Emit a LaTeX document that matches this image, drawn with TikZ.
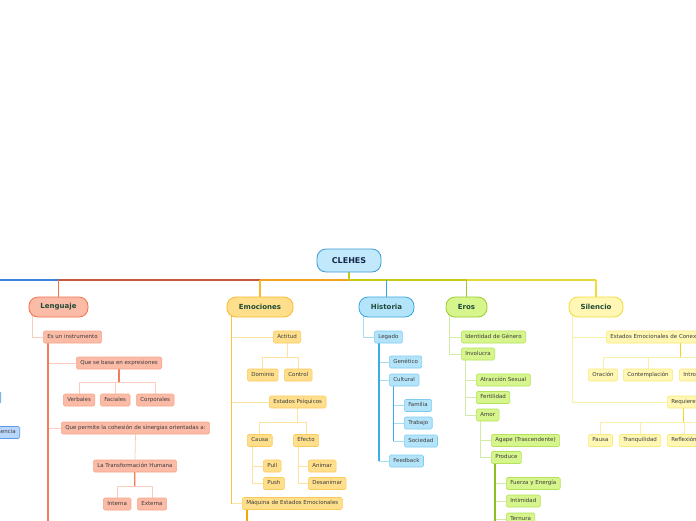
\documentclass[tikz,border=0pt]{standalone}
\usepackage{fontspec}
\setmainfont{DejaVu Sans}
\usepackage{tikz}
\usetikzlibrary{backgrounds}

\definecolor{chlabel}{HTML}{1F4A3A}
\definecolor{chnavy}{HTML}{14284A}
\definecolor{chleaftext}{HTML}{3C3C3C}
% root and main line
\definecolor{chroot}{HTML}{C2E8FC}
\definecolor{chrootline}{HTML}{3D9BD3}
\definecolor{chmblue}{HTML}{3A82DA}
\definecolor{chmred}{HTML}{C4553F}
\definecolor{chmorange}{HTML}{F0A41E}
\definecolor{chmolive}{HTML}{C6CA12}
\definecolor{chmyellow}{HTML}{E6D636}
% Lenguaje
\definecolor{chlfill}{HTML}{FBBBA6}
\definecolor{chlborder}{HTML}{F8A68A}
\definecolor{chlmain}{HTML}{F2724E}
\definecolor{chltwig}{HTML}{FCCDBD}
\definecolor{chltrunk}{HTML}{F47B58}
% Emociones
\definecolor{chefill}{HTML}{FFDF8C}
\definecolor{cheborder}{HTML}{FACB5A}
\definecolor{chemain}{HTML}{F8BA2A}
\definecolor{chetwig}{HTML}{FDE2A0}
\definecolor{chetrunk}{HTML}{F9C33E}
\definecolor{chedark}{HTML}{F5A800}
% Historia
\definecolor{chhfill}{HTML}{B4E4FA}
\definecolor{chhborder}{HTML}{7DCDF2}
\definecolor{chhmain}{HTML}{35A8DE}
\definecolor{chhtwig}{HTML}{A6DDF5}
\definecolor{chhtrunk}{HTML}{3AAEE2}
% Eros
\definecolor{chgfill}{HTML}{D6F58C}
\definecolor{chgborder}{HTML}{B4E35A}
\definecolor{chgmain}{HTML}{98CC2C}
\definecolor{chgtwig}{HTML}{D2EBA8}
\definecolor{chgtrunk}{HTML}{8CBE22}
% Silencio
\definecolor{chsfill}{HTML}{FFF7B3}
\definecolor{chsborder}{HTML}{F7EA7A}
\definecolor{chsmain}{HTML}{F0DC3A}
\definecolor{chstwig}{HTML}{F9F0A8}
\definecolor{chstrunk}{HTML}{F0D818}
% other branch (off the page)
\definecolor{chbfill}{HTML}{BAD6FB}
\definecolor{chbborder}{HTML}{5B9BEA}

\begin{document}
\begin{tikzpicture}[x=1pt, y=-1pt,
  topic/.style={rounded corners=9pt, minimum height=20pt, inner xsep=0pt,
    line width=0.8pt, text=chlabel, font=\fontsize{7}{8}\selectfont\bfseries},
  leaf/.style={anchor=west, rounded corners=1.5pt, minimum height=12pt,
    inner xsep=4pt, inner ysep=0pt, text height=4pt, text depth=1.1pt,
    line width=0.6pt, text=chleaftext, font=\fontsize{5.5}{6.5}\selectfont},
  lleaf/.style={leaf, fill=chlfill, draw=chlborder},
  eleaf/.style={leaf, fill=chefill, draw=cheborder},
  hleaf/.style={leaf, fill=chhfill, draw=chhborder},
  gleaf/.style={leaf, fill=chgfill, draw=chgborder},
  sleaf/.style={leaf, fill=chsfill, draw=chsborder},
  bleaf/.style={leaf, fill=chbfill, draw=chbborder},
  link/.style={line width=0.8pt},
  trunk/.style={line width=1.1pt},
  mainline/.style={line width=1.5pt}
]

\useasboundingbox (0,0) rectangle (696,520);
\clip (0,0) rectangle (696,520);

% Root and main topics
\node[rounded corners=9pt, minimum width=64pt, minimum height=23pt, fill=chroot,
  draw=chrootline, line width=0.8pt, text=chnavy, font=\fontsize{8}{9}\selectfont\bfseries]
  (clehes) at (349,260.5) {CLEHES};
\node[topic, fill=chlfill, draw=chlmain, minimum width=59pt] (lenguaje) at (58.5,307) {Lenguaje};
\node[topic, fill=chefill, draw=chemain, minimum width=66pt] (emociones) at (260,307) {Emociones};
\node[topic, fill=chhfill, draw=chhmain, minimum width=55pt] (historia) at (386.5,307) {Historia};
\node[topic, fill=chgfill, draw=chgmain, minimum width=41pt] (eros) at (466.5,307) {Eros};
\node[topic, fill=chsfill, draw=chsmain, minimum width=54pt] (silencio) at (596,307) {Silencio};

% Branch cut by the left edge
\node[bleaf, anchor=east, minimum width=40pt] (otronodo) at (1,397.5) {};
\node[bleaf, anchor=east] (pertenencia) at (20,432.5) {Pertenencia};

% Lenguaje
\node[lleaf] (instrumento) at (43,337) {Es un instrumento};
\node[lleaf] (expresiones) at (76,363) {Que se basa en expresiones};
\node[lleaf] (verbales) at (63,400) {Verbales};
\node[lleaf] (faciales) at (100,400) {Faciales};
\node[lleaf] (corporales) at (136,400) {Corporales};
\node[lleaf] (cohesion) at (61,428) {Que permite la cohesión de sinergias orientadas a:};
\node[lleaf] (transformacion) at (93,466) {La Transformación Humana};
\node[lleaf] (interna) at (103,504) {Interna};
\node[lleaf] (externa) at (137,504) {Externa};

% Emociones
\node[eleaf] (actitud) at (273,337) {Actitud};
\node[eleaf] (dominio) at (247,375) {Dominio};
\node[eleaf] (control) at (284,375) {Control};
\node[eleaf] (psiquicos) at (269,402) {Estados Psíquicos};
\node[eleaf] (causa) at (247,440.5) {Causa};
\node[eleaf] (efecto) at (293,440.5) {Efecto};
\node[eleaf] (pull) at (263,466) {Pull};
\node[eleaf] (push) at (263,483.5) {Push};
\node[eleaf] (animar) at (308,466) {Animar};
\node[eleaf] (desanimar) at (308,483.5) {Desanimar};
\node[eleaf] (maquina) at (242,503.5) {Máquina de Estados Emocionales};

% Historia
\node[hleaf] (legado) at (374,337) {Legado};
\node[hleaf] (genetico) at (389,362) {Genético};
\node[hleaf] (cultural) at (389,380) {Cultural};
\node[hleaf] (familia) at (404,405.5) {Familia};
\node[hleaf] (trabajo) at (404,423) {Trabajo};
\node[hleaf] (sociedad) at (404,441) {Sociedad};
\node[hleaf] (feedback) at (389,461) {Feedback};

% Eros
\node[gleaf] (identidad) at (461,337) {Identidad de Género};
\node[gleaf] (involucra) at (461,354) {Involucra};
\node[gleaf] (atraccion) at (476,380) {Atracción Sexual};
\node[gleaf] (fertilidad) at (476,397.5) {Fertilidad};
\node[gleaf] (amor) at (476,415) {Amor};
\node[gleaf] (agape) at (491,440.5) {Agape (Trascendente)};
\node[gleaf] (produce) at (491,457.5) {Produce};
\node[gleaf] (fuerza) at (506,483.5) {Fuerza y Energía};
\node[gleaf] (intimidad) at (506,501) {Intimidad};
\node[gleaf] (ternura) at (506,519) {Ternura};

% Silencio
\node[sleaf, text width=140pt, align=left] (conexion) at (606,337) {Estados Emocionales de Conexión};
\node[sleaf] (oracion) at (588,375) {Oración};
\node[sleaf] (contemplacion) at (623,375) {Contemplación};
\node[sleaf] (introspeccion) at (679,375) {Introspección};
\node[sleaf] (requiere) at (667,402) {Requiere};
\node[sleaf] (pausa) at (588,440.5) {Pausa};
\node[sleaf] (tranquilidad) at (619,440.5) {Tranquilidad};
\node[sleaf] (reflexion) at (667,440.5) {Reflexión};

% Free ends past the page edges, and trunk tops
\coordinate (hub) at (349,280);
\coordinate (otrotema) at (-30,300);
\coordinate (instrumentofin) at (48,530);
\coordinate (maquinafin) at (247,530);
\coordinate (producefin) at (495,530);
\coordinate (otrosilencio) at (730,440);
\coordinate (emotronco) at ([xshift=5pt,yshift=2pt]emociones.south west);
\coordinate (legadotronco) at ([xshift=5pt]legado.south west);
\coordinate (culturaltronco) at ([xshift=4pt]cultural.south west);

\begin{scope}[on background layer]
\fill[white] (0,0) rectangle (696,520);

% Main line
\draw[mainline, chmblue] (hub) -| (otrotema);
\draw[mainline, chmred] (hub) -- (hub -| lenguaje.north);
\draw[mainline, chmorange] (hub) -- (hub -| emociones.north);
\draw[mainline, chmyellow] (hub) -- (hub -| silencio.north);
\draw[mainline, chmolive] (hub) -- (hub -| eros.north);
\draw[mainline, chlmain] (hub -| lenguaje.north) -- (lenguaje.north);
\draw[mainline, chemain] (hub -| emociones.north) -- (emociones.north);
\draw[mainline, chhmain] (hub -| historia.north) -- (historia.north);
\draw[mainline, chgmain] (hub -| eros.north) -- (eros.north);
\draw[mainline, chsmain] (hub -| silencio.north) -- (silencio.north);
\draw[mainline, chmolive] (clehes.south) -- (hub);

% Lenguaje links
\draw[link, chltwig] ([xshift=4pt,yshift=2pt]lenguaje.south west) |- (instrumento.west);
\draw[link, chltwig] ([xshift=5pt]instrumento.south west) |- (expresiones.west);
\draw[link, chltwig] ([xshift=5pt]instrumento.south west) |- (cohesion.west);
\draw[trunk, chltrunk] ([xshift=5pt]instrumento.south west) -- (instrumentofin);
\draw[link, chltwig] (expresiones.south) -- ++(0,13) -| (verbales.north);
\draw[link, chltwig] (expresiones.south) -- ++(0,13) -| (faciales.north);
\draw[link, chltwig] (expresiones.south) -- ++(0,13) -| (corporales.north);
\draw[trunk, chltrunk] (expresiones.south) -- ++(0,13);
\draw[link, chltwig] (cohesion.south) -- (transformacion.north);
\draw[link, chltwig] (transformacion.south) -- ++(0,14) -| (interna.north);
\draw[link, chltwig] (transformacion.south) -- ++(0,14) -| (externa.north);
\draw[trunk, chltrunk] (transformacion.south) -- ++(0,14);

% Emociones links
\draw[link, chetwig] (emotronco) |- (actitud.west);
\draw[link, chetwig] (emotronco) |- (psiquicos.west);
\draw[link, chetwig] (emotronco) |- (maquina.west);
\draw[link, chetrunk] (emotronco) -- (emotronco |- maquina.west);
\draw[link, chetwig] (actitud.south) -- ++(0,14) -| (dominio.north);
\draw[link, chetwig] (actitud.south) -- ++(0,14) -| (control.north);
\draw[link, chetwig] (psiquicos.south) -- ++(0,14) -| (causa.north);
\draw[link, chetwig] (psiquicos.south) -- ++(0,14) -| (efecto.north);
\draw[link, chetwig] ([xshift=5pt]causa.south west) |- (pull.west);
\draw[link, chetwig] ([xshift=5pt]causa.south west) |- (push.west);
\draw[link, chetwig] ([xshift=5pt]efecto.south west) |- (animar.west);
\draw[link, chetwig] ([xshift=5pt]efecto.south west) |- (desanimar.west);
\draw[trunk, chedark] ([xshift=5pt]maquina.south west) -- (maquinafin);

% Historia links
\draw[link, chhtwig] ([xshift=5pt,yshift=2pt]historia.south west) |- (legado.west);
\draw[link, chhtwig] (legadotronco) |- (genetico.west);
\draw[link, chhtwig] (legadotronco) |- (cultural.west);
\draw[link, chhtwig] (legadotronco) |- (feedback.west);
\draw[trunk, chhtrunk] (legadotronco) -- (legadotronco |- feedback.west);
\draw[link, chhtwig] (culturaltronco) |- (familia.west);
\draw[link, chhtwig] (culturaltronco) |- (trabajo.west);
\draw[link, chhtwig] (culturaltronco) |- (sociedad.west);
\draw[link, chhtrunk] (culturaltronco) -- (culturaltronco |- sociedad.west);

% Eros links
\draw[link, chgtwig] ([xshift=4pt,yshift=2pt]eros.south west) |- (identidad.west);
\draw[link, chgtwig] ([xshift=4pt,yshift=2pt]eros.south west) |- (involucra.west);
\draw[link, chgtwig] ([xshift=4pt]involucra.south west) |- (atraccion.west);
\draw[link, chgtwig] ([xshift=4pt]involucra.south west) |- (fertilidad.west);
\draw[link, chgtwig] ([xshift=4pt]involucra.south west) |- (amor.west);
\draw[link, chgtwig] ([xshift=4pt]amor.south west) |- (agape.west);
\draw[link, chgtwig] ([xshift=4pt]amor.south west) |- (produce.west);
\draw[link, chgtwig] ([xshift=4pt]produce.south west) |- (fuerza.west);
\draw[link, chgtwig] ([xshift=4pt]produce.south west) |- (intimidad.west);
\draw[link, chgtwig] ([xshift=4pt]produce.south west) |- (ternura.west);
\draw[trunk, chgtrunk] ([xshift=4pt]produce.south west) -- (producefin);

% Silencio links
\draw[link, chstwig] ([xshift=4pt,yshift=2pt]silencio.south west) |- (conexion.west);
\draw[link, chstwig] ([xshift=4pt,yshift=2pt]silencio.south west) |- (requiere.west);
\draw[link, chstwig] (conexion.south) -- ++(0,14) -| (oracion.north);
\draw[link, chstwig] (conexion.south) -- ++(0,14) -| (contemplacion.north);
\draw[link, chstwig] (conexion.south) -- ++(0,14) -| (introspeccion.north);
\draw[trunk, chstrunk] (conexion.south) -- ++(0,14);
\draw[link, chstwig] (requiere.south) -- ++(0,14) -| (pausa.north);
\draw[link, chstwig] (requiere.south) -- ++(0,14) -| (tranquilidad.north);
\draw[link, chstwig] (requiere.south) -- ++(0,14) -| (reflexion.north);
\draw[link, chstwig] (requiere.south) -- ++(0,14) -| (otrosilencio);
\draw[trunk, chstrunk] (requiere.south) -- ++(0,14);
\end{scope}

\end{tikzpicture}
\end{document}
